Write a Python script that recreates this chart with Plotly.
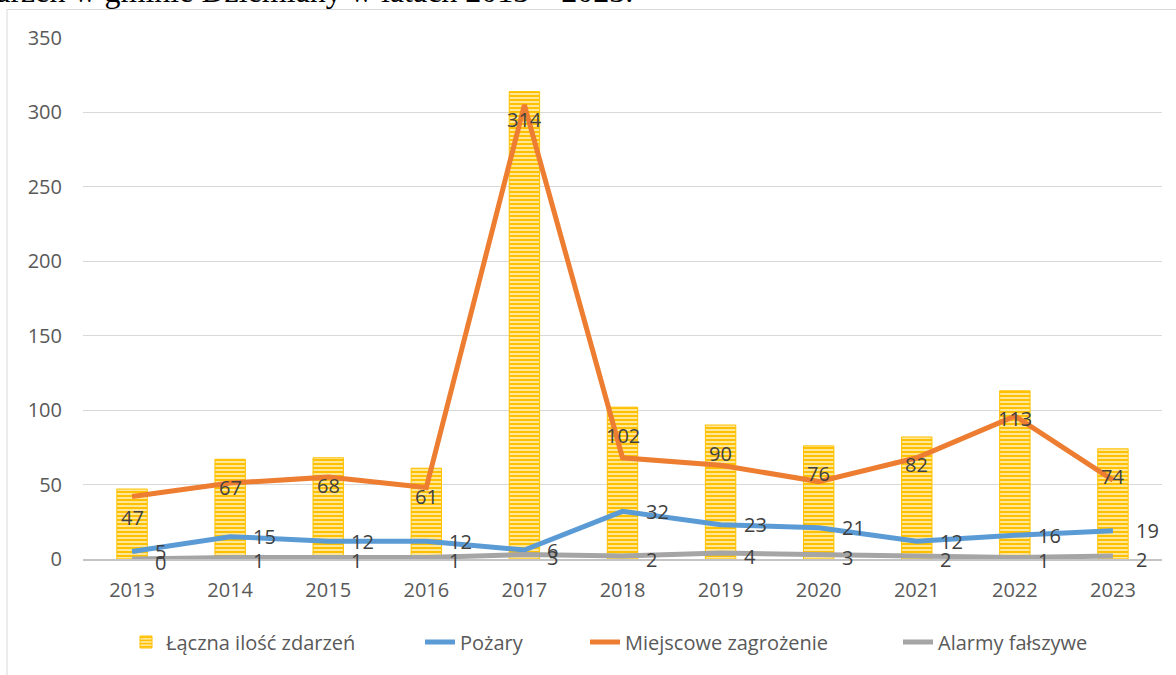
import plotly.graph_objects as go

years = ["2013", "2014", "2015", "2016", "2017", "2018", "2019", "2020", "2021", "2022", "2023"]
total = [47, 67, 68, 61, 314, 102, 90, 76, 82, 113, 74]
pozary = [5, 15, 12, 12, 6, 32, 23, 21, 12, 16, 19]
miejscowe = [42, 51, 55, 48, 305, 68, 63, 52, 68, 96, 53]
alarmy = [0, 1, 1, 1, 3, 2, 4, 3, 2, 1, 2]

names = ["Łączna ilość zdarzeń", "Pożary", "Miejscowe zagrożenie", "Alarmy fałszywe"]
title_text = "zdarzeń w gminie Dziemiany w latach 2013 – 2023."

W, H = 1176, 675
L, R, T, B = 83, 14, 38, 116
pw, ph = W - L - R, H - T - B


def px_x(p):
    return (p - L) / pw


def px_y(p):
    return (H - B - p) / ph


FONT = "Open Sans"
fig = go.Figure()

fig.add_trace(go.Bar(
    x=years, y=total, name=names[0], width=0.31,
    marker=dict(color="#ffe79a",
                line=dict(color="#ffc000", width=1),
                pattern=dict(shape="-", size=4, solidity=0.5,
                             fgcolor="#ffc000", bgcolor="#ffe79a", fillmode="replace")),
    legend="legend",
))
fig.add_trace(go.Scatter(
    x=years, y=pozary, name=names[1], mode="lines",
    line=dict(color="#5b9bd5", width=5), cliponaxis=False, legend="legend2",
))
fig.add_trace(go.Scatter(
    x=years, y=miejscowe, name=names[2], mode="lines",
    line=dict(color="#ed7d31", width=5), cliponaxis=False, legend="legend3",
))
fig.add_trace(go.Scatter(
    x=years, y=alarmy, name=names[3], mode="lines",
    line=dict(color="#a5a5a5", width=5), cliponaxis=False, legend="legend4",
))

annotations = []
lab_font = dict(family=FONT, size=20, color="#404040")
for i, v in enumerate(total):
    annotations.append(dict(x=i, y=v, xref="x", yref="y", text=str(v), showarrow=False,
                            yshift=-28, font=lab_font, xanchor="center", yanchor="middle"))
for i, v in enumerate(pozary):
    annotations.append(dict(x=i, y=v, xref="x", yref="y", text=str(v), showarrow=False,
                            xshift=21, yshift=0, font=lab_font, xanchor="left", yanchor="middle"))
for i, v in enumerate(alarmy):
    annotations.append(dict(x=i, y=v, xref="x", yref="y", text=str(v), showarrow=False,
                            xshift=21, yshift=-3, font=lab_font, xanchor="left", yanchor="middle"))

annotations.append(dict(x=px_x(635), y=px_y(11), xref="paper", yref="paper", text=title_text,
                        showarrow=False, xanchor="right", yanchor="bottom",
                        font=dict(family="Liberation Serif", size=32, color="#000000")))

legend_common = dict(orientation="h", yanchor="middle", xanchor="left",
                     font=dict(family=FONT, size=20, color="#595959"),
                     bgcolor="rgba(0,0,0,0)", borderwidth=0)
leg_text_starts = [166, 460, 625, 938]
leg_y = px_y(642)

fig.update_layout(
    width=W, height=H,
    margin=dict(l=L, r=R, t=T, b=B, autoexpand=False),
    paper_bgcolor="white", plot_bgcolor="white",
    showlegend=True,
    legend=dict(x=px_x(leg_text_starts[0] - 40), y=leg_y, **legend_common),
    legend2=dict(x=px_x(leg_text_starts[1] - 40), y=leg_y, **legend_common),
    legend3=dict(x=px_x(leg_text_starts[2] - 40), y=leg_y, **legend_common),
    legend4=dict(x=px_x(leg_text_starts[3] - 40), y=leg_y, **legend_common),
    annotations=annotations,
    shapes=[dict(type="rect", xref="paper", yref="paper",
                 x0=px_x(7), x1=px_x(1190), y0=px_y(700), y1=px_y(9.5),
                 line=dict(color="#d9d9d9", width=1), layer="below")],
    xaxis=dict(type="category", range=[-0.5, len(years) - 0.5], autorange=False,
               showgrid=False, showline=True, linecolor="#c4c4c4", linewidth=2,
               ticks="", ticklabelstandoff=12,
               tickfont=dict(family=FONT, size=20, color="#595959"), fixedrange=True),
    yaxis=dict(range=[0, 350], autorange=False, dtick=50, showgrid=True, gridcolor="#d9d9d9", gridwidth=1,
               zeroline=False, showline=False, ticks="", ticklabelstandoff=20,
               tickfont=dict(family=FONT, size=20, color="#595959"), fixedrange=True),
)

fig.write_html("out.html", config={"displayModeBar": False},
               post_script="document.body.style.margin='0';document.body.style.overflow='hidden';")
